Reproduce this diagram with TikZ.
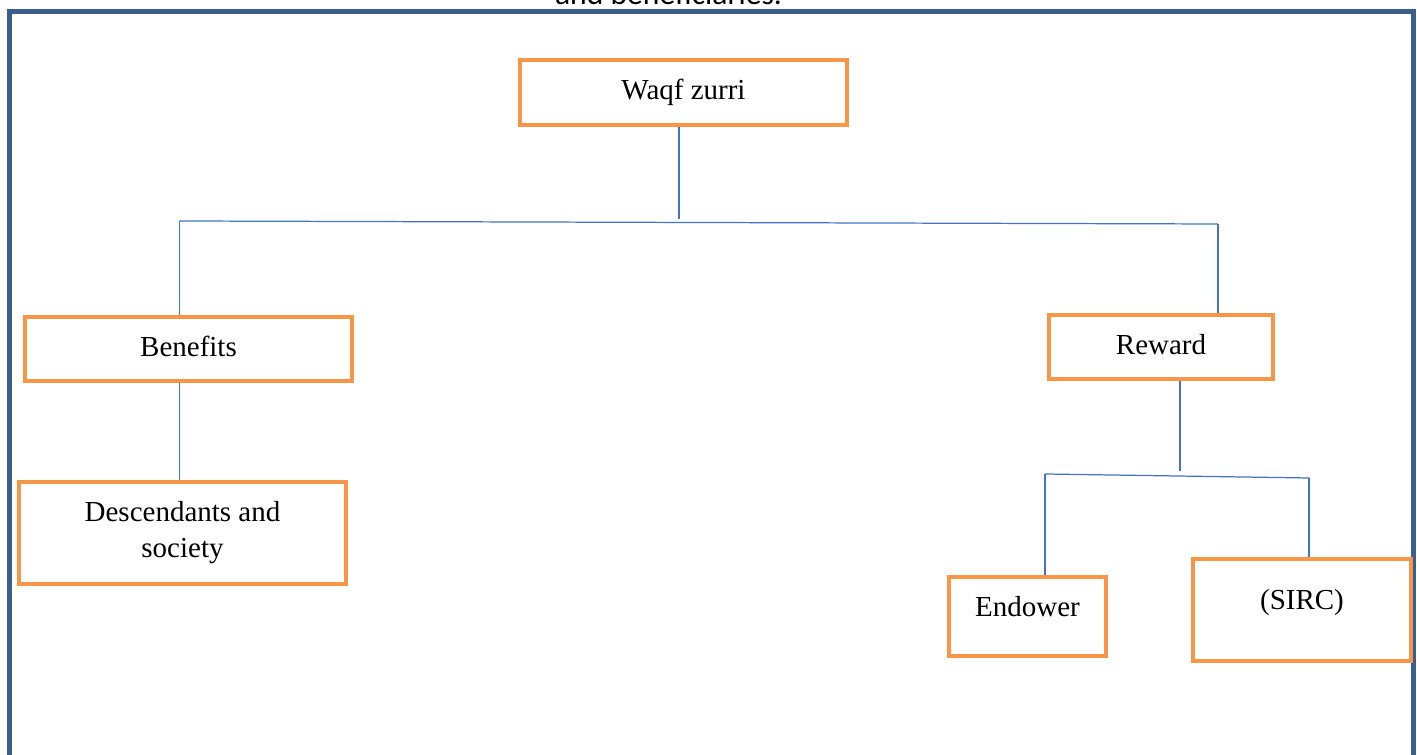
\documentclass[tikz,border=0pt]{standalone}
\usepackage{fontspec}
\setmainfont{Liberation Serif}
\newfontfamily\capfont{Carlito}
\definecolor{boxorange}{HTML}{F79646}
\definecolor{frameblue}{HTML}{3B5E8C}
\definecolor{linkblue}{HTML}{4472C4}

\begin{document}
\begin{tikzpicture}[scale=0.2,
    box/.style={draw=boxorange, line width=2.55pt, inner sep=0pt, align=center,
        font=\fontsize{16.5}{20.5}\selectfont, text height=11.5pt, text depth=3.3pt},
    highbox/.style={box, text height=8pt, text depth=8pt},
    link/.style={draw=linkblue, line width=0.7pt}]
    \useasboundingbox (0,0) rectangle (141.7,-75.5);
    \clip (0,0) rectangle (141.7,-75.5);
    % frame and cut-off caption
    \draw [frameblue, line width=2.8pt] (0.92,-1.17) rectangle (141.35,-80);
    \node [anchor=base, font=\capfont\fontsize{18}{22}\selectfont] (caption) at (66.85,-0.43) {and beneficiaries.};
    % boxes
    \node [box, minimum width=6.53cm, minimum height=1.29cm] (waqf) at (68.35,-9.25) {Waqf zurri};
    \node [box, minimum width=6.53cm, minimum height=1.27cm] (benefits) at (18.85,-34.9) {Benefits};
    \node [box, minimum width=6.53cm, minimum height=2.03cm, text height=, text depth=] (desc) at (18.25,-53.3) {Descendants and\\society};
    \node [box, minimum width=4.47cm, minimum height=1.27cm] (reward) at (116.1,-34.7) {Reward};
    \node [highbox, minimum width=3.13cm, minimum height=1.57cm] (endower) at (102.75,-61.65) {Endower};
    \node [highbox, minimum width=4.35cm, minimum height=2.03cm] (sirc) at (130.2,-61.0) {(SIRC)};
    % upper branch
    \coordinate (top) at (67.9,-21.9);
    \coordinate (topl) at (17.95,-22.1);
    \coordinate (topr) at (121.8,-22.4);
    \draw [link] (waqf.south -| top) -- (top);
    \draw [link] (topl) -- (topr);
    \draw [link] (topl) -- (benefits.north -| topl);
    \draw [link] (topr) -- (reward.north -| topr);
    \draw [link] (benefits.south -| topl) -- ([yshift=-0.55cm]benefits.south -| topl) |- (desc.north -| topl);
    % lower branch
    \coordinate (low) at (118.0,-47.1);
    \coordinate (lowl) at (104.5,-47.4);
    \coordinate (lowr) at (130.9,-47.8);
    \draw [link] (reward.south -| low) -- (low);
    \draw [link] (lowl) -- (lowr);
    \draw [link] (lowl) -- (endower.north -| lowl);
    \draw [link] (lowr) -- (sirc.north -| lowr);
\end{tikzpicture}
\end{document}
